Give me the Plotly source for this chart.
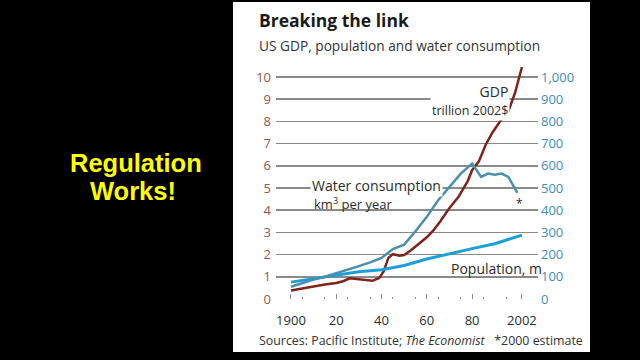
import plotly.graph_objects as go

# ---------------- data ----------------
gdp_years = [1900, 1905, 1910, 1915, 1920, 1923, 1926, 1929, 1932, 1936, 1939, 1941, 1943,
             1945, 1948, 1950, 1953, 1956, 1960, 1963, 1966, 1970, 1974, 1978, 1980, 1983,
             1986, 1989, 1992, 1996, 1999, 2002]
gdp_values = [0.38, 0.47, 0.58, 0.65, 0.72, 0.80, 0.93, 0.90, 0.84, 0.82, 0.95, 1.25, 1.85,
              2.02, 1.95, 1.98, 2.20, 2.45, 2.78, 3.10, 3.50, 4.10, 4.60, 5.30, 5.80, 6.20,
              6.95, 7.50, 7.95, 8.45, 9.30, 10.45]

water_years = [1900, 1905, 1910, 1915, 1920, 1925, 1930, 1935, 1940, 1945, 1950, 1955, 1960,
               1965, 1970, 1975, 1980, 1984, 1987, 1990, 1993, 1996, 2000]
water_values = [55, 72, 88, 100, 115, 130, 148, 165, 185, 225, 245, 305, 370,
                445, 505, 565, 610, 550, 565, 560, 565, 550, 478]

pop_years = [1900, 1910, 1920, 1930, 1940, 1950, 1960, 1970, 1980, 1990, 2000, 2002]
pop_values = [76, 92, 106, 123, 132, 151, 180, 205, 227, 249, 281, 288]

x_label_vals = [1900, 1920, 1940, 1960, 1980, 2002]
x_label_text = ["1900", "20", "40", "60", "80", "2002"]
x_decade_ticks = [1910, 1930, 1950, 1970, 1990, 2000]
x_minor_ticks = [y + 5 for y in range(1900, 2000, 10)]
left_ticks = list(range(0, 11))
right_ticks = list(range(0, 1001, 100))

# ---------------- colours / fonts ----------------
GDP_C = "#7e241b"
WATER_C = "#4b8fae"
POP_C = "#1a9fd8"
LEFT_TICK_C = "#9c5449"
RIGHT_TICK_C = "#3f8db3"
GRID_C = "#8a8a8a"
TEXT_C = "#2b2b2b"
FONT = "Open Sans"

# ---------------- geometry helpers (pixel -> paper) ----------------
L, R, T, B = 276, 538, 64, 299
W, H = 640, 360
PW, PH = R - L, B - T
X_RANGE = [1893.4, 2009.1]


def fx(px):
    return (px - L) / PW


def fy(py):
    return (B - py) / PH


fig = go.Figure()
fig.add_trace(go.Scatter(x=pop_years, y=pop_values, yaxis="y2", mode="lines",
                         line=dict(color=POP_C, width=3), hoverinfo="skip"))
fig.add_trace(go.Scatter(x=water_years, y=water_values, yaxis="y2", mode="lines",
                         line=dict(color=WATER_C, width=2.5), hoverinfo="skip"))
fig.add_trace(go.Scatter(x=gdp_years, y=gdp_values, yaxis="y", mode="lines",
                         line=dict(color=GDP_C, width=2.5), hoverinfo="skip"))

annotations = [
    dict(text="<b>Breaking the link</b>", x=fx(257), y=fy(20), xanchor="left", yanchor="middle",
         font=dict(family=FONT, size=17.5, color="#1a1a1a")),
    dict(text="US GDP, population and water consumption", x=fx(257), y=fy(46), xanchor="left",
         yanchor="middle", font=dict(family=FONT, size=13.7, color="#333333")),
    dict(text="Sources: Pacific Institute; <i>The Economist</i>   *2000 estimate", x=fx(257),
         y=fy(340), xanchor="left", yanchor="middle",
         font=dict(family=FONT, size=12.4, color="#333333")),
    dict(text="GDP<br><span style='font-size:12.5px'>trillion 2002$</span>", x=fx(510), y=fy(100),
         xanchor="right", yanchor="middle", align="right", bgcolor="white", borderpad=1,
         font=dict(family=FONT, size=14, color=TEXT_C)),
    dict(text="Water consumption", x=fx(310), y=fy(185), xanchor="left", yanchor="middle",
         bgcolor="white", borderpad=1, font=dict(family=FONT, size=14, color=TEXT_C)),
    dict(text="km<sup>3</sup> per year", x=fx(312), y=fy(203), xanchor="left", yanchor="middle",
         font=dict(family=FONT, size=13, color=TEXT_C)),
    dict(text="Population, m", x=fx(449), y=fy(268), xanchor="left", yanchor="middle",
         font=dict(family=FONT, size=14, color=TEXT_C)),
    dict(text="*", x=fx(519), y=fy(203), xanchor="center", yanchor="middle",
         font=dict(family=FONT, size=12, color=TEXT_C)),
    dict(text="<b>Regulation</b>", x=fx(136), y=fy(163), xanchor="center", yanchor="middle",
         font=dict(family="Liberation Sans", size=25.5, color="#ffff00")),
    dict(text="<b>Works!</b>", x=fx(133), y=fy(191), xanchor="center", yanchor="middle",
         font=dict(family="Liberation Sans", size=25.5, color="#ffff00")),
]
for a in annotations:
    a.update(xref="paper", yref="paper", showarrow=False)

fig.update_layout(
    width=W, height=H,
    margin=dict(l=L, r=W - R, t=T, b=H - B, pad=0),
    paper_bgcolor="black",
    plot_bgcolor="white",
    showlegend=False,
    font=dict(family=FONT, size=13, color=TEXT_C),
    shapes=[dict(type="rect", xref="paper", yref="paper", x0=fx(233), x1=fx(590),
                 y0=fy(352), y1=fy(2), fillcolor="white", line=dict(width=0), layer="below")],
    annotations=annotations,
    xaxis=dict(range=X_RANGE, tickmode="array", tickvals=x_label_vals, ticktext=x_label_text,
               tickangle=0,
               ticks="inside", ticklen=5, tickcolor=GRID_C, tickwidth=1, showgrid=False,
               zeroline=False, showline=False, ticklabelstandoff=12,
               tickfont=dict(family=FONT, size=13, color=TEXT_C),
               minor=dict(tickmode="array", tickvals=x_minor_ticks,
                          ticks="inside", ticklen=2, tickcolor=GRID_C, tickwidth=1, showgrid=False)),
    xaxis2=dict(range=X_RANGE, overlaying="x", anchor="y", side="bottom", tickmode="array",
                tickvals=x_decade_ticks, showticklabels=False, ticks="inside", ticklen=5,
                tickcolor=GRID_C, tickwidth=1, showgrid=False, zeroline=False, showline=False),
    yaxis=dict(range=[0, PH / 22.2], tickmode="array", tickvals=left_ticks, showgrid=True,
               gridcolor=GRID_C, gridwidth=1.6, zeroline=False, ticks="", ticklabelstandoff=4,
               tickfont=dict(family=FONT, size=13, color=LEFT_TICK_C)),
    yaxis2=dict(range=[0, PH / 22.2 * 100], overlaying="y", side="right", tickmode="array",
                tickvals=right_ticks, tickformat=",", showgrid=False, zeroline=False, ticks="",
                ticklabelstandoff=2,
                tickfont=dict(family=FONT, size=13, color=RIGHT_TICK_C)),
)

fig.write_html(
    "out.html",
    config=dict(displayModeBar=False, staticPlot=True),
    post_script="document.body.style.margin='0';document.body.style.background='black';",
)
